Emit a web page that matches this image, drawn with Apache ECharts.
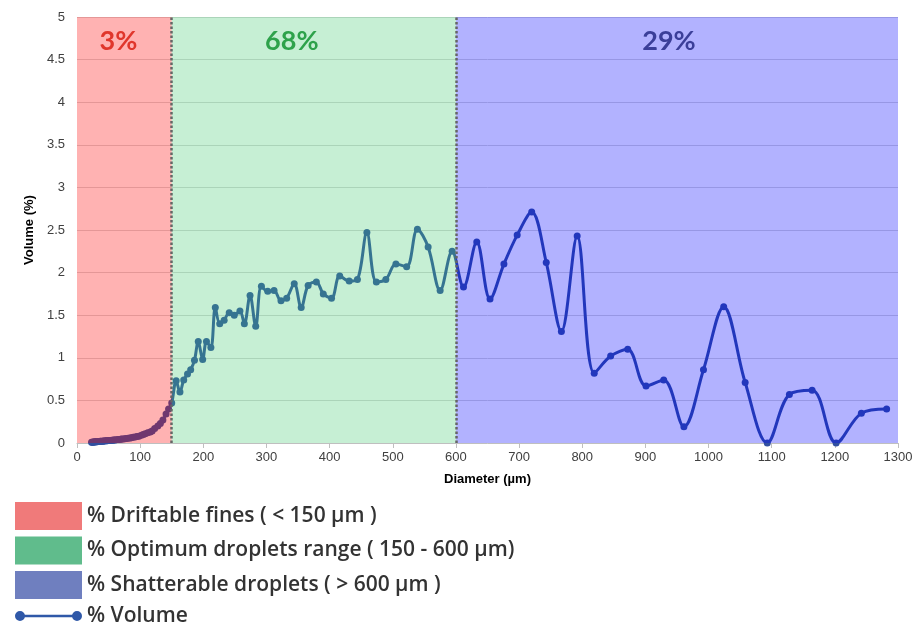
<!DOCTYPE html>
<html>
<head>
<meta charset="utf-8">
<script src="https://cdn.jsdelivr.net/npm/echarts@6/dist/echarts.min.js"></script>
<style>
  html, body { margin: 0; background: #fff; }
  #main { width: 920px; height: 626px; }
</style>
</head>
<body>
<div id="main"></div>
<script>
// droplet diameter (µm) / volume (%)
var fineX = [23, 24, 25, 26, 27, 28, 29, 30, 31, 32, 34, 35, 36, 37, 38, 40, 41, 42, 44, 45,
  47, 48, 50, 51, 53, 55, 57, 58, 60, 62, 65, 67, 69, 71, 73, 76, 78, 81, 84, 86,
  89, 92, 95, 98, 102, 105, 108, 112, 116, 119, 123, 128, 132, 136, 141, 145]
var fineY = [0.01, 0.01, 0.01, 0.012, 0.012, 0.013, 0.014, 0.015, 0.015, 0.016, 0.017, 0.018, 0.019, 0.02, 0.02, 0.021, 0.022, 0.023, 0.024, 0.025,
  0.026, 0.027, 0.028, 0.029, 0.03, 0.032, 0.033, 0.034, 0.036, 0.038, 0.04, 0.042, 0.044, 0.046, 0.048, 0.05, 0.053, 0.056, 0.06, 0.063,
  0.067, 0.07, 0.075, 0.08, 0.09, 0.1, 0.11, 0.12, 0.13, 0.14, 0.17, 0.2, 0.23, 0.27, 0.34, 0.4]

var optX = [150, 157, 163, 169, 175, 180, 186, 192, 199, 205, 212, 219, 226, 233, 241, 249, 258, 265, 274, 283,
  292, 302, 312, 323, 332, 344, 355, 366, 379, 390, 403, 416, 431, 444, 459, 474, 489, 505, 522, 539,
  556, 575, 594]
var optY = [0.47, 0.73, 0.6, 0.74, 0.81, 0.86, 0.97, 1.19, 0.98, 1.19, 1.12, 1.59, 1.4, 1.44, 1.53, 1.5, 1.55, 1.4, 1.73, 1.37,
  1.84, 1.78, 1.79, 1.67, 1.7, 1.87, 1.59, 1.85, 1.89, 1.75, 1.7, 1.96, 1.9, 1.92, 2.47, 1.89, 1.92, 2.1, 2.07, 2.51,
  2.3, 1.79, 2.25]

var shatX = [612, 633, 654, 676, 697, 720, 743, 767, 792, 819, 845, 872, 901, 929, 961, 992, 1024, 1058, 1093, 1128,
  1164, 1202, 1242, 1282]
var shatY = [1.83, 2.36, 1.69, 2.1, 2.44, 2.71, 2.12, 1.31, 2.43, 0.82, 1.02, 1.1, 0.67, 0.74, 0.19, 0.86, 1.6, 0.71, 0, 0.57,
  0.62, 0, 0.35, 0.4]

var zoneEdges = [0, 150, 600, 1300]
var zoneNames = ['% Driftable fines ( < 150 µm )', '% Optimum droplets range ( 150 - 600 µm)', '% Shatterable droplets ( > 600 µm )']
var zonePct = ['3%', '68%', '29%']
var lineName = '% Volume'

// styles
var zoneFill = ['rgba(255,0,0,0.3)', 'rgba(65,202,112,0.3)', 'rgba(0,0,255,0.3)']
var zoneLegend = ['#f07a7a', '#60bc8c', '#6f7fbf']
var zoneText = ['#e0362c', '#2ea24b', '#3b3f99']
var zoneShift = [-6, -22, -8]

var volData = []
var allX = fineX.concat(optX, shatX)
var allY = fineY.concat(optY, shatY)
for (var i = 0; i < allX.length; i++) volData.push([allX[i], allY[i]])

var series = [{
  name: lineName,
  type: 'line',
  data: volData,
  smooth: 0.35,
  symbol: 'circle',
  symbolSize: 7,
  z: 2,
  lineStyle: {color: '#3250a0', width: 3},
  itemStyle: {color: '#3250a0'}
}]

zoneNames.forEach(function (nm, k) {
  series.push({
    name: nm,
    type: 'line',
    data: [],
    itemStyle: {color: zoneLegend[k]},
    markArea: {
      silent: true,
      z: 3,
      itemStyle: {color: zoneFill[k]},
      label: {
        show: true,
        position: 'insideTop',
        distance: 5,
        offset: [zoneShift[k], 6],
        fontSize: 27,
        fontWeight: 'bold',
        fontFamily: 'Lato',
        color: zoneText[k]
      },
      data: [[{xAxis: zoneEdges[k], name: zonePct[k]}, {xAxis: zoneEdges[k + 1]}]]
    }
  })
})

// dotted dividers
series.push({
  name: 'edges',
  type: 'line',
  data: [],
  markLine: {
    silent: true,
    symbol: 'none',
    label: {show: false},
    lineStyle: {color: '#666', width: 2.5, type: [2.5, 2], opacity: 1},
    data: [{xAxis: zoneEdges[1]}, {xAxis: zoneEdges[2]}]
  }
})

var legendData = zoneNames.map(function (nm, k) {
  return {name: nm, icon: 'rect', itemStyle: {color: zoneLegend[k]}}
})
legendData.push({
  name: lineName,
  icon: 'path://M0,5A5,5,0,1,1,10,5A5,5,0,1,1,0,5ZM5,3.8L62,3.8L62,6.2L5,6.2ZM57,5A5,5,0,1,1,67,5A5,5,0,1,1,57,5Z',
  itemStyle: {color: '#2f58a8'}
})

var chart = echarts.init(document.getElementById('main'))
chart.setOption({
  animation: false,
  grid: {left: 77, right: 22, top: 17, bottom: 183},
  legend: {
    orient: 'vertical',
    left: 15,
    top: 502,
    height: 160,
    padding: 0,
    itemWidth: 67,
    itemHeight: 28,
    itemGap: 6.5,
    symbolKeepAspect: true,
    textStyle: {fontSize: 21, fontWeight: 600, fontFamily: 'Open Sans', color: '#333'},
    data: legendData
  },
  xAxis: {
    type: 'value',
    min: 0,
    max: 1300,
    interval: 100,
    name: 'Diameter (µm)',
    nameLocation: 'middle',
    nameGap: 30,
    nameTextStyle: {fontWeight: 'bold', fontSize: 13, color: '#000', fontFamily: 'Liberation Sans'},
    axisLine: {show: true, lineStyle: {color: '#bfbfbf'}},
    axisTick: {show: true, length: 5, lineStyle: {color: '#bfbfbf'}},
    axisLabel: {color: '#404040', fontSize: 13, margin: 8, fontFamily: 'Liberation Sans',
      formatter: function (v) { return String(v) }},
    splitLine: {show: false}
  },
  yAxis: {
    type: 'value',
    min: 0,
    max: 5,
    interval: 0.5,
    name: 'Volume (%)',
    nameLocation: 'middle',
    nameGap: 38,
    nameRotate: 90,
    nameTextStyle: {fontWeight: 'bold', fontSize: 13, color: '#000', fontFamily: 'Liberation Sans'},
    axisLine: {show: false},
    axisTick: {show: false},
    axisLabel: {color: '#404040', fontSize: 13, margin: 12, fontFamily: 'Liberation Sans'},
    splitLine: {lineStyle: {color: '#d9d9d9'}}
  },
  series: series
})
</script>
</body>
</html>
